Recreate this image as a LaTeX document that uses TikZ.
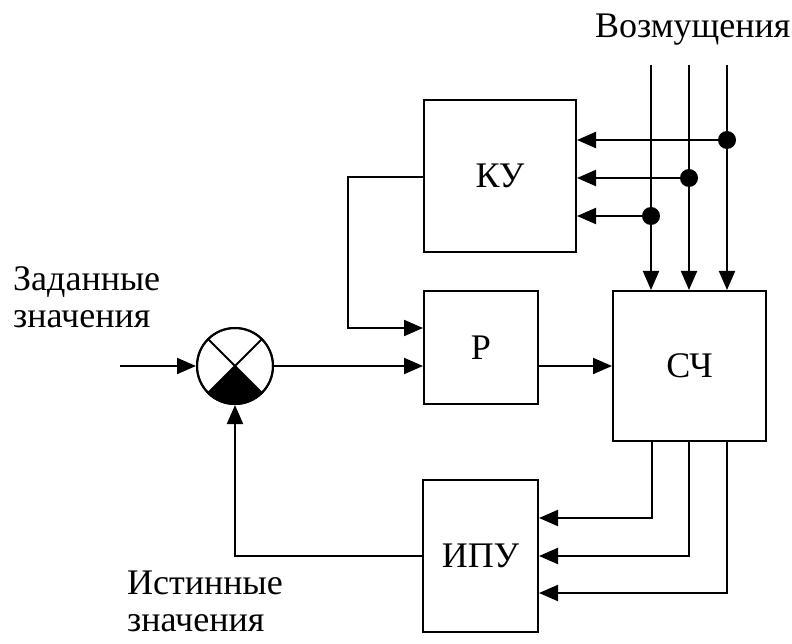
\documentclass[tikz,border=0pt]{standalone}
\usepackage{fontspec}
\setmainfont{Liberation Serif}
\usetikzlibrary{arrows.meta,positioning,calc}
\tikzset{
  blk/.style={draw, line width=2pt, inner sep=0pt, font=\fontsize{36}{37}\selectfont},
  lbl/.style={font=\fontsize{36}{37}\selectfont, align=left, inner sep=0pt},
  arrow/.style={-{Triangle[length=19pt,width=16pt]}, line width=2pt},
  wire/.style={line width=2pt},
  dot/.style={circle, fill, inner sep=0pt, minimum size=18pt}
}
\begin{document}
\begin{tikzpicture}[x=1pt,y=-1pt]
  \useasboundingbox (0,0) rectangle (792,644);
  % blocks
  \node[blk, minimum width=152pt, minimum height=152pt] (ky) at (500,176) {КУ};
  \node[blk, minimum width=114pt, minimum height=113pt] (p) at (481,347.5) {Р};
  \node[blk, minimum width=153pt, minimum height=150pt] (sch) at (689.5,366) {СЧ};
  \node[blk, minimum width=115pt, minimum height=152pt] (ipu) at (480.5,556) {ИПУ};
  % summing junction
  \node[draw, circle, line width=2pt, minimum size=76pt, inner sep=0pt] (sum) at (235,366) {};
  \fill (sum.center) -- (sum.-135) arc[start angle=-135, end angle=-45, radius=38pt] -- cycle;
  \draw[wire] (sum.135) -- (sum.-45) (sum.45) -- (sum.-135);
  \draw[line width=2pt] (sum) circle[radius=38pt];
  % labels
  \node[lbl, anchor=north west] (dist) at (595,14) {Возмущения};
  \node[lbl, anchor=north west] (ref) at (13,266) {Заданные\\значения};
  \node[lbl, anchor=north west] (act) at (127,571) {Истинные\\значения};
  % inputs
  \coordinate (in) at (120,366);
  \draw[arrow] (in) -- (sum.west);
  \draw[arrow] (sum.east) -- (sum.east -| p.west);
  \draw[arrow] (sum.east -| p.east) -- (sum.east -| sch.west);
  \coordinate (kyout) at (424,177);
  \draw[arrow] (kyout) -- (348,177) -- (348,328) -- (p.west |- 0,328);
  % disturbances
  \foreach \x/\y in {651/216, 689/178, 727/140} {
    \coordinate (d\x) at (\x,65);
    \draw[arrow] (d\x) -- (d\x |- sch.north);
    \node[dot] (n\x) at (\x,\y) {};
    \draw[arrow] (n\x) -- (n\x -| ky.east);
  }
  % measurements
  \foreach \x/\y in {652/518, 689/556, 727/593} {
    \coordinate (m\x) at (\x,441);
    \draw[arrow] (m\x) -- (\x,\y) -- (ipu.east |- 0,\y);
  }
  \draw[arrow] (ipu.west) -- (sum.south |- ipu.west) -- (sum.south);
\end{tikzpicture}
\end{document}
